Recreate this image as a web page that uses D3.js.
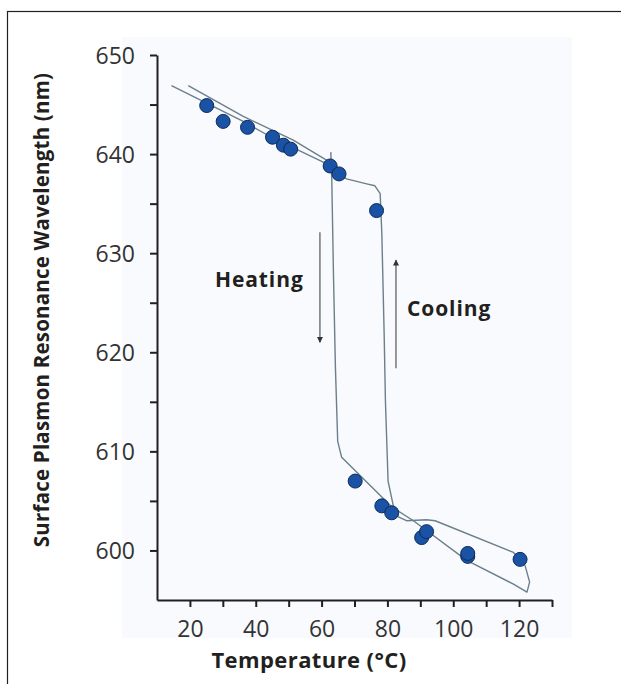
<!DOCTYPE html>
<html>
<head>
<meta charset="utf-8">
<script src="https://cdn.jsdelivr.net/npm/d3@7"></script>
<style>
  body { margin: 0; background: #fff; }
  text { font-family: "Open Sans", "Noto Sans", sans-serif; }
</style>
</head>
<body>
<div id="chart"></div>
<script>
// measured points (temperature °C, wavelength nm)
const temps = [25.1, 30.1, 37.5, 45.1, 48.4, 50.6, 62.6, 65.3, 76.7, 70.2, 78.3, 81.3, 90.4, 91.9, 104.4, 104.4, 120.3];
const waves = [644.9, 643.3, 642.7, 641.7, 640.9, 640.5, 638.8, 638.0, 634.3, 607.0, 604.5, 603.8, 601.3, 601.9, 599.4, 599.7, 599.1];

// hand-drawn hysteresis guide lines
const heatingTop = [[14.4, 646.9], [36.2, 643.3], [45.3, 641.6], [60.5, 639.2], [62.3, 638.9]];
const heatingDrop = [[62.8, 640.2], [63.1, 637.4], [63.6, 628], [64.2, 618.5], [64.9, 611], [66.1, 609.4],
  [81.3, 604.4], [87.9, 603.0], [104.1, 599.0], [118.3, 596.6], [122.4, 595.8], [123.2, 596.8], [121.8, 598.5]];
const cooling = [[121.8, 598.5], [118.3, 599.8], [94.5, 603.0], [91.9, 603.1], [85.8, 603.0], [83.3, 603.4],
  [81.8, 604.5], [80.2, 607.0], [79.4, 615], [79.0, 622], [78.3, 632], [77.8, 636.0], [76.2, 636.8],
  [73.7, 637.0], [67.6, 637.5], [64.6, 638.0], [61.5, 639.4], [51.4, 641.4], [36.2, 643.8], [19.5, 646.9]];

const heatArrow = [59.5, 632.1, 621.0];  // x, from, to
const coolArrow = [82.6, 618.4, 629.3];

const xTicks = [20, 40, 60, 80, 100, 120];
const yTicks = [600, 610, 620, 630, 640, 650];

const W = 621, H = 684;
const svg = d3.select("#chart").append("svg").attr("width", W).attr("height", H);

// frame + faint plot backdrop
svg.append("rect").attr("x", 7.5).attr("y", 11.5).attr("width", 700).attr("height", 700)
  .attr("fill", "none").attr("stroke", "#231f20").attr("stroke-width", 1.2);
svg.append("rect").attr("x", 122).attr("y", 37).attr("width", 450).attr("height", 601)
  .attr("fill", "#f8fafd");

const x = d3.scaleLinear().domain([10, 130]).range([157, 552]);
const y = d3.scaleLinear().domain([595, 650]).range([600, 55]);

const axisColor = "#231f20";

// x axis
const gx = svg.append("g").attr("transform", "translate(0,600)")
  .call(d3.axisBottom(x).tickValues(d3.range(10, 131, 10)).tickSize(7).tickSizeOuter(0)
    .tickFormat(d => xTicks.includes(d) ? d : ""));
// y axis
const gy = svg.append("g").attr("transform", "translate(157,0)")
  .call(d3.axisLeft(y).tickValues(d3.range(595, 651, 5)).tickSize(7).tickSizeOuter(0)
    .tickFormat(d => yTicks.includes(d) ? d : ""));

[gx, gy].forEach(g => {
  g.select(".domain").attr("stroke", axisColor).attr("stroke-width", 2);
  g.selectAll(".tick line").attr("stroke", axisColor).attr("stroke-width", 2);
  g.selectAll(".tick text").attr("fill", "#333").style("font-size", "23px")
    .style("font-family", "'Open Sans', sans-serif");
});
gx.selectAll(".tick text").attr("dy", null).attr("y", 37);
gy.selectAll(".tick text").attr("x", -22).attr("dy", "0.36em");
gy.selectAll(".tick").filter(d => d === 595).remove();
gx.selectAll(".tick").filter(d => d === 10).remove();

// guide curves
const line = d3.line().x(d => x(d[0])).y(d => y(d[1])).curve(d3.curveLinear);
const guideColor = "#6b7f8b";
[heatingTop, heatingDrop, cooling].forEach(pts => {
  svg.append("path").attr("d", line(pts)).attr("fill", "none")
    .attr("stroke", guideColor).attr("stroke-width", 1.4).attr("stroke-linejoin", "round");
});

// arrows
const defs = svg.append("defs");
defs.append("marker").attr("id", "head").attr("viewBox", "0 0 10 10")
  .attr("refX", 9).attr("refY", 5).attr("markerWidth", 7).attr("markerHeight", 6)
  .attr("orient", "auto").attr("markerUnits", "userSpaceOnUse")
  .append("path").attr("d", "M0,0 L10,5 L0,10 Z").attr("fill", "#333");
[heatArrow, coolArrow].forEach(a => {
  svg.append("line").attr("x1", x(a[0])).attr("x2", x(a[0]))
    .attr("y1", y(a[1])).attr("y2", y(a[2]))
    .attr("stroke", "#555").attr("stroke-width", 1.2).attr("marker-end", "url(#head)");
});

// points
svg.append("g").selectAll("circle").data(temps).join("circle")
  .attr("cx", d => x(d)).attr("cy", (d, i) => y(waves[i])).attr("r", 7)
  .attr("fill", "#1a52a6").attr("stroke", "#0c2b57").attr("stroke-width", 1);

// annotations
svg.append("text").attr("x", 215).attr("y", 287).text("Heating")
  .attr("fill", "#231f20").style("font-size", "21px").style("font-weight", "bold")
  .style("letter-spacing", "0.9px");
svg.append("text").attr("x", 407).attr("y", 316).text("Cooling")
  .attr("fill", "#231f20").style("font-size", "21px").style("font-weight", "bold")
  .style("letter-spacing", "0.9px");

// axis titles
svg.append("text").attr("x", 309).attr("y", 668).attr("text-anchor", "middle")
  .text("Temperature (°C)").attr("fill", "#231f20")
  .style("font-size", "22px").style("font-weight", "bold").style("letter-spacing", "0.4px");
svg.append("text").attr("transform", "translate(49,310) rotate(-90)").attr("text-anchor", "middle")
  .text("Surface Plasmon Resonance Wavelength (nm)").attr("fill", "#231f20")
  .style("font-size", "20.5px").style("font-weight", "bold").style("letter-spacing", "0.2px");
</script>
</body>
</html>
